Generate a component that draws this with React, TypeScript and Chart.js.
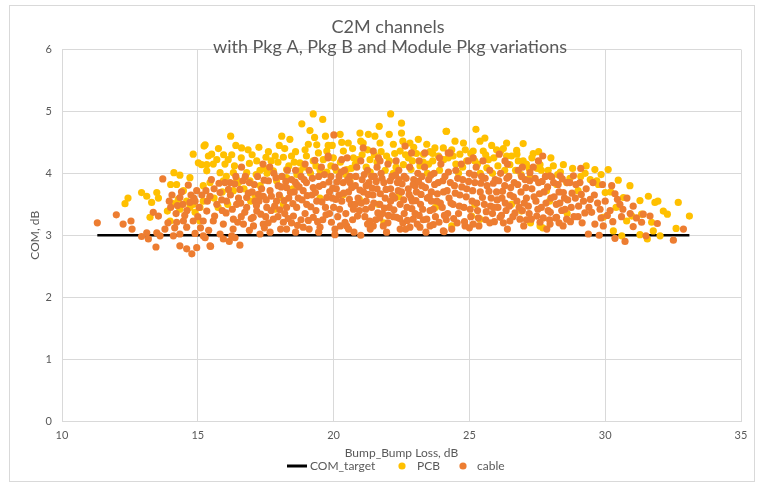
import React, { useEffect, useRef } from "react";
import { Chart, registerables } from "chart.js";

Chart.register(...registerables);

const titleLines = ["C2M channels", "with Pkg A, Pkg B and Module Pkg variations"];
const xAxisTitle = "Bump_Bump Loss, dB";
const yAxisTitle = "COM, dB";
const seriesNames = ["COM_target", "PCB", "cable"];

const targetLoss = [11.3, 33.1];
const targetCom = [3, 3];

const pcbPoints: [number, number][] = [
  [12.43, 3.6], [12.32, 3.51], [12.93, 3.69], [13.12, 3.63], [13.49, 3.69], [13.3, 3.53], [13.55, 3.6], [13.24, 3.29],
  [14.0, 3.82], [14.12, 4.01], [14.34, 3.97], [14.71, 3.93], [14.22, 3.82], [14.47, 3.72], [14.1, 3.51], [14.34, 3.42],
  [14.59, 3.55], [14.71, 3.45], [13.88, 3.39], [13.98, 3.23], [14.83, 3.5], [14.9, 3.37], [15.08, 3.45], [15.08, 3.23],
  [15.2, 3.55], [14.83, 4.31], [15.02, 4.17], [15.23, 4.44], [15.39, 4.28], [15.33, 4.14], [14.28, 3.58],
  [19.25, 4.96], [19.6, 4.87], [18.83, 4.8], [19.13, 4.69], [18.09, 4.6], [18.39, 4.55], [16.21, 4.6], [15.27, 4.46],
  [15.76, 4.4], [16.61, 4.41], [15.51, 4.31], [19.07, 4.47], [19.38, 4.46], [19.8, 4.45], [19.44, 4.33], [17.17, 4.2],
  [17.51, 4.26], [18.15, 4.26], [18.45, 4.28], [19.0, 4.28], [15.14, 4.14], [15.57, 4.15], [16.0, 4.15], [16.12, 4.22],
  [18.76, 4.17], [19.25, 4.2], [19.62, 4.22], [15.33, 4.04], [15.82, 4.01], [16.31, 4.01], [16.8, 4.01], [17.29, 4.05],
  [17.78, 4.04], [18.27, 4.06], [18.76, 4.04], [15.45, 3.85], [15.94, 3.88], [16.43, 3.9], [16.92, 3.88], [17.9, 3.88],
  [18.27, 3.93], [15.45, 3.61], [16.31, 3.72], [17.84, 3.42], [18.03, 3.61],
  [16.6, 4.25], [17.0, 4.3], [17.7, 4.2], [18.6, 4.35], [17.3, 3.8], [16.7, 3.75], [19.5, 4.05], [18.5, 3.75],
  [15.6, 3.6], [15.9, 3.7], [16.1, 3.5], [15.2, 3.8], [16.5, 3.85], [17.1, 3.65],
  [22.1, 4.96], [22.5, 4.81], [21.68, 4.76], [22.5, 4.65], [22.05, 4.63], [20.97, 4.65], [21.28, 4.63], [21.52, 4.6],
  [20.24, 4.63], [24.16, 4.68], [20.54, 4.49], [21.09, 4.49], [21.71, 4.49], [22.2, 4.47], [22.81, 4.49], [23.12, 4.55],
  [23.43, 4.47], [23.73, 4.41], [19.75, 4.36], [20.36, 4.36], [22.45, 4.36], [19.99, 4.25], [20.73, 4.25],
  [21.34, 4.22], [21.95, 4.28], [22.75, 4.25], [23.31, 4.31], [23.86, 4.28], [24.22, 4.25], [20.48, 4.06], [22.57, 4.14],
  [23.18, 4.12], [20.36, 3.66], [21.65, 3.5], [20.6, 3.88],
  [20.8, 4.15], [21.2, 4.1], [21.9, 4.05], [22.3, 4.1], [22.9, 4.2], [23.5, 4.15], [23.9, 4.05], [21.5, 4.3], [20.1, 4.05], [23.65, 4.2],
  [25.24, 4.71], [24.14, 4.68], [25.57, 4.57], [25.39, 4.52], [24.78, 4.49], [24.47, 4.52], [26.37, 4.49], [25.82, 4.45],
  [24.04, 4.41], [26.16, 4.36], [26.75, 4.31], [25.14, 4.36], [25.51, 4.36], [24.65, 4.31], [26.37, 4.28], [26.98, 4.2],
  [26.49, 4.14], [28.46, 4.14], [27.6, 4.14], [28.09, 4.12], [25.64, 4.09], [27.23, 3.93], [28.21, 3.82], [28.58, 3.85],
  [27.84, 3.72], [25.39, 3.26], [27.6, 3.15], [26.92, 3.39], [27.7, 3.12], [25.08, 3.31],
  [24.9, 4.2], [25.9, 4.25], [26.7, 4.05], [27.3, 4.25], [27.9, 4.05], [24.5, 4.15], [25.3, 4.15],
  [26.98, 4.48], [27.35, 4.32], [26.74, 4.37],
  [29.62, 4.06], [30.11, 4.06], [29.26, 4.0], [30.48, 3.89], [30.91, 3.8], [29.69, 3.88], [30.0, 3.69],
  [30.67, 3.61], [31.28, 3.56], [31.59, 3.63], [31.83, 3.53], [31.94, 3.55], [32.14, 3.39], [32.29, 3.34], [32.69, 3.53],
  [33.1, 3.31], [32.61, 3.11], [31.71, 3.21], [31.77, 3.07], [31.34, 3.34], [30.3, 3.07], [30.61, 2.99], [31.28, 3.01],
  [31.55, 2.94], [32.02, 2.99], [30.98, 3.31], [30.79, 3.23], [29.93, 3.29],
  [15.7, 4.22], [16.25, 4.3], [16.9, 4.16], [17.45, 4.08], [17.95, 4.18], [18.35, 4.12], [18.9, 4.1], [19.35, 4.12],
  [19.9, 4.12], [20.25, 4.18], [20.65, 4.08], [21.05, 4.3], [21.6, 4.18], [22.05, 4.2], [22.65, 4.3], [23.05, 4.32],
  [23.55, 4.35], [24.35, 4.38], [24.75, 4.1], [25.05, 4.32], [25.7, 4.22], [26.05, 4.12], [26.55, 4.28], [27.1, 4.15],
  [27.5, 4.08], [28.0, 4.25], [28.35, 4.02], [28.8, 4.08], [29.1, 3.95], [29.45, 3.9], [29.85, 3.98], [17.15, 3.98],
  [16.05, 3.95], [18.65, 3.98], [19.75, 4.02], [21.35, 4.02], [22.85, 4.06], [24.6, 4.0], [25.85, 4.0], [26.9, 3.98],
  [15.75, 3.45], [16.95, 3.55], [18.15, 3.5], [19.5, 3.6], [20.95, 3.58], [22.4, 3.62], [23.75, 3.45], [25.2, 3.5],
  [26.55, 3.5], [27.95, 3.55], [29.0, 3.72], [30.4, 3.45], [28.6, 3.35], [27.25, 3.2], [24.35, 3.15], [21.85, 3.2],
  [16.35, 4.12], [16.85, 4.38], [17.25, 4.42], [17.6, 4.35], [17.85, 4.28], [18.2, 4.4], [18.55, 4.18], [18.95, 4.38],
  [19.3, 4.58], [19.7, 4.6], [19.95, 4.45], [20.3, 4.5], [20.7, 4.4], [20.9, 4.22], [21.25, 4.38], [21.75, 4.35],
  [22.25, 4.32], [22.55, 4.52], [22.95, 4.42], [23.3, 4.18], [23.65, 4.32], [24.05, 4.22], [24.4, 4.28], [24.85, 4.38],
  [25.2, 4.2], [25.6, 4.3], [26.0, 4.38], [26.3, 4.05], [26.8, 4.2], [27.2, 4.08], [27.65, 4.05], [28.25, 3.98],
  [28.7, 3.92], [29.3, 4.12], [29.75, 3.82], [30.2, 3.7], [17.55, 4.0], [19.15, 4.0], [20.45, 3.98], [22.2, 4.0],
  [23.45, 4.0], [25.4, 4.0], [26.25, 4.4], [27.55, 4.35], [21.0, 4.52], [18.0, 4.45], [16.4, 4.45], [15.95, 4.3],
];

const cablePoints: [number, number][] = [
  [11.3, 3.2], [12.0, 3.33], [12.25, 3.18], [12.54, 3.23], [12.58, 3.1], [13.36, 3.37], [13.55, 3.31], [13.12, 3.04],
  [12.93, 2.98], [13.18, 2.94], [13.49, 3.04], [13.61, 2.99], [13.79, 3.1], [13.46, 2.81], [13.71, 3.91], [14.65, 3.81],
  [14.34, 3.61], [14.71, 3.53], [14.96, 3.72], [14.22, 3.21], [14.47, 3.23], [14.83, 3.23], [15.2, 3.23], [14.1, 2.99],
  [14.34, 3.02], [14.59, 3.13], [14.9, 3.03], [15.2, 2.99], [14.34, 2.83], [14.59, 2.78], [14.96, 2.8], [14.78, 2.7],
  [15.27, 2.96], [15.47, 2.82], [16.55, 2.84], [15.94, 2.94], [16.16, 2.9], [16.37, 2.96],
  [14.0, 3.45], [14.2, 3.35], [14.45, 3.5], [14.6, 3.4], [14.85, 3.6], [15.05, 3.45], [15.15, 3.65], [15.35, 3.55],
  [15.0, 3.3], [14.4, 3.7], [13.9, 3.2], [14.05, 3.65],
  [14.15, 3.12], [14.52, 3.32], [14.75, 3.65], [15.1, 3.12], [15.4, 3.08], [14.9, 3.55], [15.3, 3.72], [13.95, 3.55], [14.25, 3.48],
  [16.61, 4.1], [19.31, 4.21], [19.8, 4.25], [15.45, 3.63], [15.82, 3.69], [16.19, 3.85], [16.55, 3.74], [16.8, 3.61],
  [17.11, 3.55], [17.41, 3.63], [17.66, 3.72], [17.96, 3.8], [18.27, 3.77], [18.64, 3.82], [18.88, 3.72], [19.25, 3.77],
  [19.62, 3.82], [19.75, 3.61], [19.38, 3.55], [19.01, 3.5], [18.64, 3.45], [18.27, 3.45], [17.9, 3.55], [17.54, 3.45],
  [17.17, 3.39], [16.8, 3.45], [16.43, 3.5], [16.06, 3.55], [15.7, 3.5], [15.33, 3.39], [15.57, 3.23], [15.94, 3.18],
  [16.31, 3.26], [16.68, 3.18], [17.04, 3.29], [17.41, 3.18], [17.78, 3.26], [18.15, 3.21], [18.52, 3.31], [18.88, 3.13],
  [19.25, 3.29], [19.5, 3.13], [15.82, 3.02], [16.25, 2.99], [15.45, 2.83], [17.29, 3.02], [17.66, 3.05], [18.27, 3.1],
  [16.4, 3.95], [16.9, 3.85], [17.2, 3.95], [17.35, 3.75], [17.6, 3.88], [17.8, 4.0], [18.0, 3.65], [18.1, 3.95],
  [18.35, 3.6], [18.45, 3.9], [18.6, 4.05], [18.8, 3.95], [19.0, 3.85], [19.1, 4.05], [19.2, 3.65], [19.45, 3.95],
  [19.55, 4.1], [19.7, 3.45], [19.85, 3.7], [18.7, 3.6], [18.2, 3.35], [17.7, 3.4], [17.0, 3.7], [16.6, 3.3],
  [16.2, 3.65], [15.9, 3.4], [15.6, 3.75], [16.0, 3.85], [17.25, 3.55], [17.5, 3.3], [18.45, 3.2], [18.95, 3.35],
  [19.35, 3.4], [19.6, 3.25], [19.1, 3.1], [18.8, 3.25], [17.95, 3.3], [17.05, 3.15], [16.3, 3.1], [16.75, 3.95],
  [18.55, 3.7], [19.9, 3.95], [15.5, 3.9], [16.5, 3.6], [17.65, 4.1], [18.95, 4.15], [18.3, 4.05], [17.4, 4.15],
  [15.62, 3.31], [15.78, 3.84], [15.88, 3.57], [16.04, 3.36], [16.13, 3.74], [16.27, 3.42], [16.36, 3.83], [16.47, 3.21],
  [16.58, 3.52], [16.66, 3.88], [16.73, 3.37], [16.86, 3.68], [16.97, 3.27], [17.08, 3.82], [17.16, 3.48], [17.23, 3.66],
  [17.32, 3.34], [17.44, 3.89], [17.52, 3.57], [17.59, 3.2], [17.71, 3.63], [17.83, 3.47], [17.88, 3.93], [18.02, 3.41],
  [18.07, 3.78], [18.18, 3.56], [18.24, 3.87], [18.33, 3.27], [18.41, 3.69], [18.5, 3.51], [18.58, 3.86], [18.67, 3.16],
  [18.73, 3.78], [18.84, 3.57], [18.91, 3.9], [19.03, 3.64], [19.07, 3.24], [19.16, 3.46], [19.22, 3.92], [19.33, 3.69],
  [19.41, 3.22], [19.47, 3.79], [19.57, 3.54], [19.66, 3.98], [19.72, 3.33], [19.83, 3.86], [19.92, 3.21], [19.97, 3.76],
  [20.01, 4.62], [22.63, 4.44], [21.09, 4.41], [21.46, 4.36], [19.8, 4.28], [20.3, 4.22], [23.36, 4.33], [22.87, 4.33],
  [21.71, 4.2], [24.22, 4.33], [20.05, 3.1], [20.05, 3.01], [21.0, 3.0], [20.48, 3.15], [21.46, 3.15], [21.83, 3.15],
  [22.81, 3.13], [23.18, 3.13], [23.67, 3.17], [24.04, 3.07], [22.93, 3.26], [22.32, 3.29],
  [20.0, 3.45], [20.1, 3.75], [20.2, 3.95], [20.05, 4.1], [20.15, 3.3], [19.95, 3.6], [20.3, 3.55], [20.35, 3.85],
  [20.4, 4.05], [20.45, 3.35], [20.55, 3.7], [20.6, 3.95], [20.65, 3.5], [20.7, 3.25], [20.8, 3.8], [20.85, 4.1],
  [20.9, 3.6], [20.95, 3.4], [21.05, 3.9], [21.1, 3.7], [21.15, 3.3], [21.2, 3.55], [21.25, 4.05], [21.3, 3.85],
  [21.4, 3.45], [21.45, 3.65], [21.5, 3.95], [21.55, 3.25], [21.6, 3.75], [21.7, 3.5], [21.75, 4.0], [21.8, 3.35],
  [21.85, 3.85], [21.9, 3.6], [22.0, 4.15], [22.05, 3.45], [22.1, 3.75], [22.15, 3.95], [22.2, 3.3], [22.25, 3.6],
  [22.35, 3.85], [22.4, 4.05], [22.45, 3.5], [22.5, 3.7], [22.55, 3.2], [22.6, 3.95], [22.7, 3.45], [22.75, 3.75],
  [22.8, 4.1], [22.85, 3.6], [22.95, 3.9], [23.0, 3.35], [23.05, 3.7], [23.1, 4.0], [23.2, 3.5], [23.25, 3.8],
  [23.3, 3.25], [23.35, 4.1], [23.45, 3.6], [23.5, 3.9], [23.55, 3.4], [23.6, 3.7], [23.7, 4.0], [23.75, 3.3],
  [23.8, 3.55], [23.85, 3.85], [23.95, 4.15], [24.0, 3.45], [24.05, 3.7], [24.1, 3.95], [24.2, 3.35], [24.25, 3.6],
  [24.3, 3.85],
  [20.25, 3.15], [20.75, 3.05], [21.35, 3.1], [21.95, 3.05], [22.65, 3.1], [23.4, 3.05], [20.5, 4.25], [21.0, 4.2],
  [21.65, 4.25], [22.3, 4.2], [23.15, 4.2], [23.9, 4.25], [20.2, 3.65], [20.8, 3.5], [21.2, 3.8], [21.6, 4.1],
  [22.1, 3.55], [22.6, 3.35], [23.0, 3.8], [23.6, 3.55], [24.15, 3.25], [22.4, 3.9], [21.4, 3.95], [20.6, 3.85],
  [23.25, 3.95], [22.9, 3.55],
  [20.08, 3.58], [20.12, 3.86], [20.22, 3.42], [20.28, 4.02], [20.37, 3.68], [20.42, 3.21], [20.52, 3.9], [20.58, 3.58],
  [20.67, 3.77], [20.73, 3.42], [20.82, 3.95], [20.88, 3.31], [20.97, 3.73], [21.02, 3.52], [21.13, 3.98], [21.18, 3.42],
  [21.27, 3.66], [21.33, 3.23], [21.42, 3.76], [21.48, 3.52], [21.57, 3.87], [21.63, 3.36], [21.72, 3.67], [21.78, 3.92],
  [21.87, 3.44], [21.93, 3.74], [22.02, 3.32], [22.08, 3.88], [22.17, 3.64], [22.22, 3.41], [22.28, 3.97], [22.38, 3.72],
  [22.43, 3.27], [22.52, 3.83], [22.58, 3.57], [22.67, 3.92], [22.72, 3.24], [22.78, 3.66], [22.88, 3.43], [22.93, 3.82],
  [23.03, 3.56], [23.08, 3.18], [23.13, 3.87], [23.22, 3.66], [23.28, 3.42], [23.38, 3.77], [23.43, 3.26], [23.52, 3.62],
  [23.58, 3.97], [23.67, 3.42], [23.72, 3.82], [23.82, 3.67], [23.88, 3.21], [23.93, 3.52], [24.02, 3.88], [24.08, 3.32],
  [24.18, 3.72], [24.23, 4.02],
  [26.1, 4.31], [24.29, 4.33], [27.7, 4.28], [27.54, 4.2], [24.96, 4.2], [26.31, 4.2], [25.14, 4.25], [27.97, 3.96],
  [28.34, 3.96], [27.23, 4.01], [24.07, 3.06], [24.84, 3.15], [25.14, 3.18], [26.13, 3.29], [26.49, 3.23], [26.86, 3.26],
  [27.6, 3.21], [27.97, 3.18], [28.21, 3.29], [28.58, 3.26], [27.48, 3.31],
  [24.4, 3.5], [24.45, 3.8], [24.5, 4.05], [24.6, 3.35], [24.65, 3.65], [24.75, 3.9], [24.8, 3.45], [24.9, 3.75],
  [25.0, 4.0], [25.05, 3.3], [25.1, 3.55], [25.2, 3.85], [25.25, 4.1], [25.3, 3.4], [25.4, 3.7], [25.45, 3.95],
  [25.55, 3.5], [25.6, 3.25], [25.65, 3.8], [25.75, 4.05], [25.8, 3.6], [25.85, 3.35], [25.95, 3.9], [26.0, 3.7],
  [26.05, 3.45], [26.15, 4.0], [26.2, 3.6], [26.3, 3.8], [26.35, 3.4], [26.45, 3.95], [26.5, 3.65], [26.6, 3.3],
  [26.65, 3.85], [26.75, 3.55], [26.8, 4.05], [26.9, 3.7], [26.95, 3.4], [27.05, 3.9], [27.1, 3.6], [27.2, 3.35],
  [27.3, 3.75], [27.35, 4.1], [27.45, 3.55], [27.55, 3.85], [27.65, 3.45], [27.75, 3.7], [27.8, 3.95], [27.9, 3.4],
  [28.0, 3.6], [28.1, 3.85], [28.2, 3.5], [28.3, 3.7], [28.4, 3.4], [28.5, 3.6], [28.6, 3.85], [24.55, 3.2],
  [25.35, 3.15], [26.25, 3.2], [27.0, 3.15], [28.45, 3.15], [24.7, 4.15], [25.5, 4.2], [26.4, 4.15], [26.95, 4.1],
  [24.32, 3.52], [24.42, 3.27], [24.48, 3.68], [24.57, 3.92], [24.63, 3.47], [24.72, 3.78], [24.82, 3.22], [24.88, 3.62],
  [24.97, 3.87], [25.03, 3.42], [25.12, 3.72], [25.18, 3.97], [25.27, 3.52], [25.33, 3.28], [25.42, 3.84], [25.48, 3.61],
  [25.58, 3.92], [25.62, 3.38], [25.72, 3.71], [25.78, 3.47], [25.88, 3.84], [25.92, 3.22], [26.02, 3.57], [26.08, 3.88],
  [26.18, 3.32], [26.22, 3.71], [26.32, 3.52], [26.38, 3.92], [26.47, 3.47], [26.52, 3.77], [26.62, 3.62], [26.68, 3.36],
  [26.78, 3.82], [26.83, 3.45], [26.92, 3.95], [27.02, 3.52], [27.08, 3.77], [27.17, 3.47], [27.22, 3.88], [27.28, 3.26],
  [27.38, 3.62], [27.42, 3.92], [27.52, 3.42], [27.58, 3.67], [27.68, 3.87], [27.72, 3.28], [27.82, 3.52], [27.88, 3.78],
  [27.98, 3.37], [28.03, 3.94], [28.12, 3.62], [28.18, 3.28], [28.27, 3.82], [28.33, 3.52], [28.42, 3.91], [28.52, 3.42],
  [28.62, 3.57], [28.72, 3.22], [28.78, 3.68], [28.92, 3.82], [29.02, 3.47], [29.12, 3.66], [29.25, 3.36], [29.45, 3.58],
  [29.55, 3.85], [29.72, 3.52], [29.85, 3.28], [30.08, 3.32], [30.28, 3.22], [30.45, 3.58], [30.65, 3.42], [30.92, 3.35],
  [31.15, 3.28],
  [29.1, 4.08], [28.83, 3.96], [29.9, 3.82], [30.24, 3.8], [28.7, 3.85], [29.07, 3.85], [30.36, 3.67], [31.03, 3.47],
  [30.54, 3.5], [30.18, 3.4], [29.81, 3.42], [29.5, 3.37], [29.93, 3.15], [29.62, 3.18], [29.38, 3.02], [29.78, 3.0],
  [30.36, 2.95], [30.73, 2.9], [31.03, 3.14], [31.34, 3.21], [31.65, 3.31], [31.4, 3.34], [31.5, 2.99], [31.92, 3.19],
  [32.51, 2.92], [32.88, 3.1], [28.46, 3.69],
  [28.9, 3.6], [29.2, 3.55], [29.3, 3.75], [29.6, 3.65], [28.75, 3.45], [29.0, 3.3], [29.4, 3.45], [30.0, 3.55],
  [30.6, 3.3], [30.8, 3.6], [29.15, 3.2], [28.85, 3.3],
  [16.9, 3.08], [17.45, 3.12], [18.05, 3.1], [18.6, 3.05], [19.45, 3.05], [20.55, 3.1], [21.25, 3.18], [22.0, 3.2],
  [22.45, 3.1], [23.55, 3.15], [24.35, 3.1], [25.0, 3.12], [25.75, 3.2], [26.4, 3.1], [27.1, 3.25], [27.85, 3.1],
  [28.3, 3.2], [19.85, 3.35], [21.7, 3.28], [23.15, 3.32], [25.9, 3.45], [27.95, 3.25],
];

const FONT = "Lato, 'Liberation Sans', sans-serif";
const TEXT = "#595959";
const GRID = "#d9d9d9";
const PCB_COLOR = "#FFC000";
const CABLE_COLOR = "#ED7D31";

const framePlugin = {
  id: "frame",
  beforeDraw(chart: any) {
    const ctx = chart.ctx;
    ctx.save();
    ctx.fillStyle = "#ffffff";
    ctx.fillRect(0, 0, chart.width, chart.height);
    ctx.strokeStyle = GRID;
    ctx.lineWidth = 1;
    ctx.strokeRect(9.5, 5.5, 745, 476);
    ctx.restore();
  },
};

const titlePlugin = {
  id: "twoLineTitle",
  afterDraw(chart: any) {
    const ctx = chart.ctx;
    ctx.save();
    ctx.fillStyle = TEXT;
    ctx.font = `18px ${FONT}`;
    ctx.textAlign = "center";
    ctx.textBaseline = "middle";
    ctx.fillText(titleLines[0], 388, 27);
    ctx.fillText(titleLines[1], 390, 47);
    ctx.restore();
  },
};

const legendPlugin = {
  id: "bottomLegend",
  afterDraw(chart: any) {
    const ctx = chart.ctx;
    const y = 466;
    ctx.save();
    ctx.font = `12px ${FONT}`;
    ctx.textBaseline = "middle";
    ctx.textAlign = "left";
    ctx.fillStyle = TEXT;
    ctx.strokeStyle = "#000000";
    ctx.lineWidth = 3;
    ctx.beginPath();
    ctx.moveTo(287, y);
    ctx.lineTo(307, y);
    ctx.stroke();
    ctx.fillText(seriesNames[0], 310, y);
    ctx.fillStyle = PCB_COLOR;
    ctx.beginPath();
    ctx.arc(402, y, 3.6, 0, Math.PI * 2);
    ctx.fill();
    ctx.fillStyle = TEXT;
    ctx.fillText(seriesNames[1], 417, y);
    ctx.fillStyle = CABLE_COLOR;
    ctx.beginPath();
    ctx.arc(463, y, 3.6, 0, Math.PI * 2);
    ctx.fill();
    ctx.fillStyle = TEXT;
    ctx.fillText(seriesNames[2], 477, y);
    ctx.restore();
  },
};

export default function App() {
  const ref = useRef<HTMLCanvasElement | null>(null);

  useEffect(() => {
    document.body.style.margin = "0";
    const canvas = ref.current;
    if (!canvas) return;
    const chart = new Chart(canvas, {
      type: "scatter",
      data: {
        datasets: [
          {
            label: seriesNames[0],
            data: targetLoss.map((x, i) => ({ x, y: targetCom[i] })),
            showLine: true,
            borderColor: "#000000",
            borderWidth: 2.5,
            pointRadius: 0,
            order: 2,
          },
          {
            label: seriesNames[1],
            data: pcbPoints.map(([x, y]) => ({ x, y })),
            backgroundColor: PCB_COLOR,
            borderWidth: 0,
            pointRadius: 3.6,
            order: 1,
          },
          {
            label: seriesNames[2],
            data: cablePoints.map(([x, y]) => ({ x, y })),
            backgroundColor: CABLE_COLOR,
            borderWidth: 0,
            pointRadius: 3.6,
            order: 0,
          },
        ],
      },
      options: {
        responsive: false,
        animation: false,
        events: [],
        layout: { padding: { left: 0, right: 26, top: 49.5, bottom: 22.8 } },
        plugins: {
          legend: { display: false },
          title: { display: false },
          tooltip: { enabled: false },
        },
        scales: {
          x: {
            type: "linear",
            min: 10,
            max: 35,
            ticks: { stepSize: 5, color: TEXT, font: { family: FONT, size: 11 }, padding: 8 },
            grid: { color: GRID, drawTicks: false },
            border: { color: GRID },
            title: {
              display: true,
              text: xAxisTitle,
              color: TEXT,
              font: { family: FONT, size: 12 },
              padding: { top: 0, bottom: 0 },
            },
            afterFit(scale: any) {
              scale.height = 39.2;
            },
          },
          y: {
            type: "linear",
            min: 0,
            max: 6,
            ticks: { stepSize: 1, color: TEXT, font: { family: FONT, size: 11 }, padding: 10 },
            grid: { color: GRID, drawTicks: false },
            border: { color: GRID },
            title: {
              display: true,
              text: yAxisTitle,
              color: TEXT,
              font: { family: FONT, size: 12 },
              padding: { top: 28, bottom: 0 },
            },
            afterFit(scale: any) {
              scale.width = 62;
            },
          },
        },
      },
      plugins: [framePlugin, titlePlugin, legendPlugin],
    });
    return () => chart.destroy();
  }, []);

  return <canvas ref={ref} width={767} height={483} style={{ display: "block", width: 767, height: 483 }} />;
}
